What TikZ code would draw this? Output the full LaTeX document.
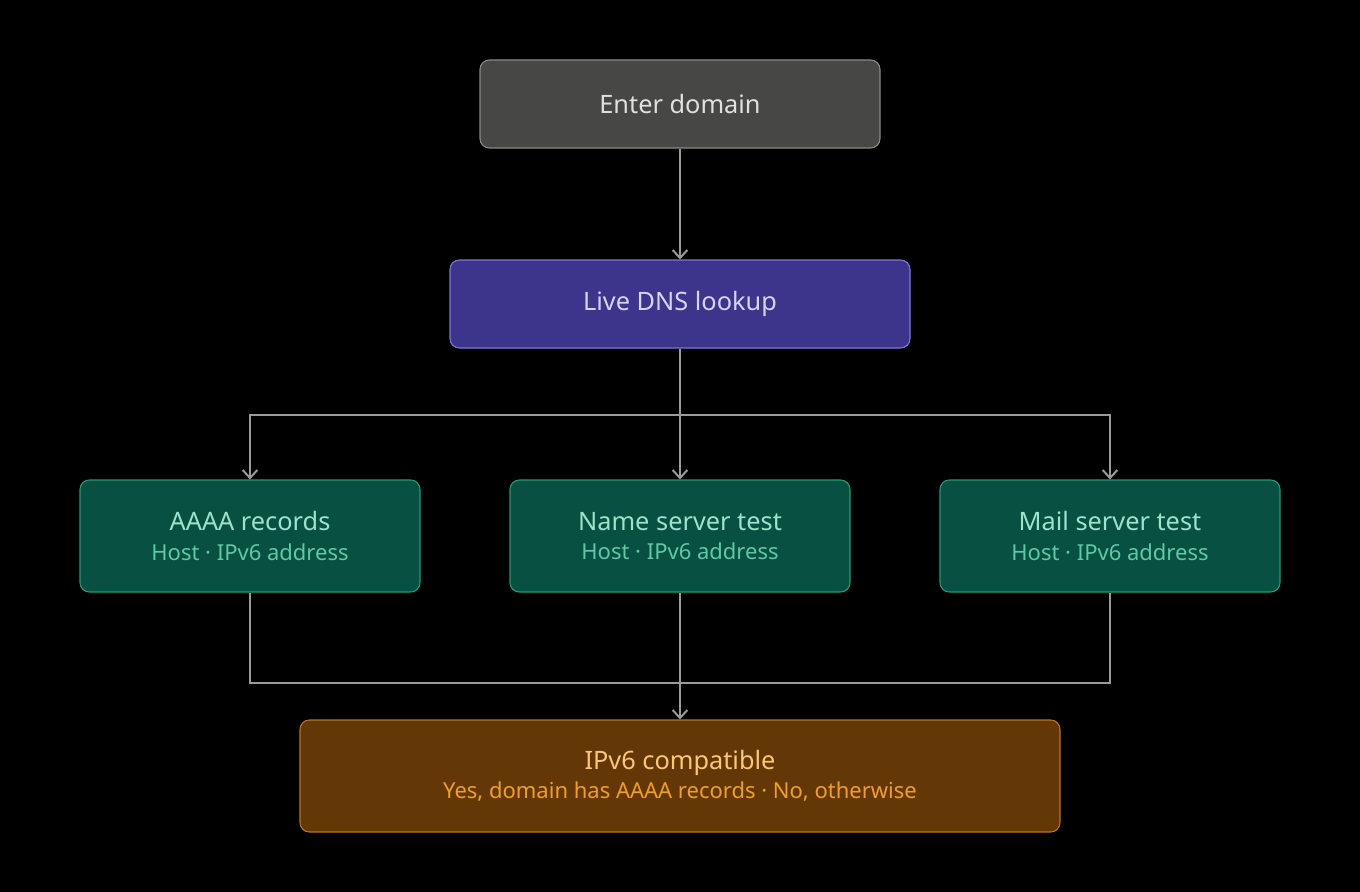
\documentclass[tikz,border=0pt]{standalone}
\usepackage{fontspec}
\setmainfont{Noto Sans}
\usetikzlibrary{positioning, arrows.meta}
\definecolor{bg}{HTML}{000000}
\definecolor{wire}{HTML}{9A9A98}
\definecolor{grayfill}{HTML}{474745}
\definecolor{grayline}{HTML}{8A8A88}
\definecolor{grayText}{HTML}{E0E0DC}
\definecolor{dnsfill}{HTML}{3D348B}
\definecolor{dnsline}{HTML}{7F77DD}
\definecolor{dnsText}{HTML}{D6D3F5}
\definecolor{testfill}{HTML}{085041}
\definecolor{testline}{HTML}{1D9E75}
\definecolor{testText}{HTML}{9FE1CB}
\definecolor{testSub}{HTML}{5DCAA5}
\definecolor{resfill}{HTML}{633806}
\definecolor{resline}{HTML}{BA7517}
\definecolor{resText}{HTML}{FAC775}
\definecolor{resSub}{HTML}{EF9F27}
\newcommand{\subline}[2]{{\fontsize{16.5}{20}\selectfont\color{#1}#2}}

\begin{document}
\begin{tikzpicture}[x=0.75pt, y=-0.75pt,
% boxes
box/.style={rounded corners=7pt, line width=0.8pt, align=center, inner sep=0pt},
startbox/.style={box, fill=grayfill, draw=grayline, text=grayText, minimum width=300pt, minimum height=66pt, font=\fontsize{19}{23}\selectfont},
dnsbox/.style={box, fill=dnsfill, draw=dnsline, text=dnsText, minimum width=345pt, minimum height=66pt, font=\fontsize{19}{23}\selectfont},
testbox/.style={box, fill=testfill, draw=testline, text=testText, minimum width=255pt, minimum height=84pt, font=\fontsize{19}{23}\selectfont},
resbox/.style={box, fill=resfill, draw=resline, text=resText, minimum width=570pt, minimum height=84pt, font=\fontsize{19}{23}\selectfont},
% connectors
wireline/.style={draw=wire, line width=1.5pt},
arr/.style={wireline, -{Straight Barb[length=6pt, width=11pt, line width=1.5pt]}}
]
\useasboundingbox[fill=bg] (0,0) rectangle (1360,892);

% nodes
\node[startbox] (enter) at (680,104) {Enter domain};
\node[dnsbox] (dns) at (680,304) {Live DNS lookup};
\node[testbox] (aaaa) at (250,536) {AAAA records\\[-1pt]\subline{testSub}{Host · IPv6 address}};
\node[testbox] (ns) at (680,536) {Name server test\\[-1pt]\subline{testSub}{Host · IPv6 address}};
\node[testbox] (mx) at (1110,536) {Mail server test\\[-1pt]\subline{testSub}{Host · IPv6 address}};
\node[resbox] (ipv6) at (680,776) {IPv6 compatible\\[-1pt]\subline{resSub}{Yes, domain has AAAA records · No, otherwise}};

\coordinate (split) at (680,415);
\coordinate (merge) at (680,683);

% connectors
\draw[arr] (enter) -- (dns);
\draw[wireline] (dns) -- (split);
\draw[arr] (split) -| (aaaa);
\draw[arr] (split) -- (ns);
\draw[arr] (split) -| (mx);
\draw[wireline] (aaaa) |- (merge);
\draw[wireline] (mx) |- (merge);
\draw[wireline] (ns) -- (merge);
\draw[arr] (merge) -- (ipv6);
\end{tikzpicture}
\end{document}
